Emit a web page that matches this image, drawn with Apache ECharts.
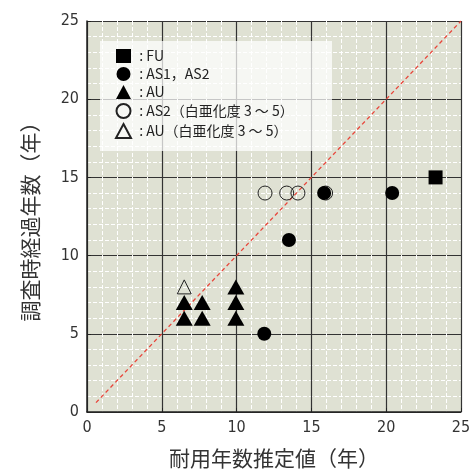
<!DOCTYPE html>
<html>
<head>
<meta charset="utf-8">
<script src="https://cdn.jsdelivr.net/npm/echarts@6/dist/echarts.min.js"></script>
<style>
  html, body { margin: 0; padding: 0; background: #fff; }
  #chart { width: 474px; height: 474px; }
</style>
</head>
<body>
<div id="chart"></div>
<script>
// データ [耐用年数推定値, 調査時経過年数]
const fuData = [[23.3, 15]];
const asData = [[11.85, 5], [13.5, 11], [15.85, 14], [20.4, 14]];
const auData = [[6.5, 6], [6.5, 7], [7.7, 6], [7.7, 7], [9.95, 6], [9.95, 7], [9.95, 8]];
const as2Chalk = [[11.9, 14], [13.35, 14], [14.1, 14], [15.95, 14]];
const auChalk = [[6.5, 8]];
const refLine = [[0.6, 0.6], [25, 25]];
const axisTicks = [0, 5, 10, 15, 20, 25];

const tickFont = '"Liberation Sans Narrow", "DejaVu Sans Condensed", sans-serif';
const jpFont = '"Noto Sans CJK JP", sans-serif';

const chart = echarts.init(document.getElementById('chart'));

function axisCfg(name) {
  return {
    type: 'value',
    min: axisTicks[0],
    max: axisTicks[axisTicks.length - 1],
    interval: 5,
    name: name,
    nameLocation: 'middle',
    nameTextStyle: { fontFamily: jpFont, fontSize: 21, color: '#333' },
    axisLine: { show: true, lineStyle: { color: '#222', width: 1.5 } },
    axisTick: { show: true, length: 4, inside: true, lineStyle: { color: '#222' } },
    axisLabel: { fontFamily: tickFont, fontSize: 16, color: '#333' },
    splitLine: { show: true, lineStyle: { color: '#333', width: 1.2 } },
    minorTick: { show: false, splitNumber: 5 },
    minorSplitLine: { show: true, lineStyle: { color: '#ffffff', type: [4, 2], width: 1 } }
  };
}

const symS = 14;
const hollow = { color: 'rgba(0,0,0,0)', borderColor: '#222', borderWidth: 1, opacity: 1 };

chart.setOption({
  animation: false,
  grid: { left: 87, right: 13, top: 21, bottom: 61, show: true, backgroundColor: '#dfe1d3', borderWidth: 0 },
  xAxis: Object.assign(axisCfg('耐用年数推定値（年）'), { nameGap: 36 }),
  yAxis: Object.assign(axisCfg('調査時経過年数（年）'), { nameGap: 46 }),
  graphic: [{
    type: 'rect',
    left: 100, top: 41,
    shape: { width: 232, height: 110 },
    style: { fill: 'rgba(255,255,255,0.72)' },
    z: 5
  }],
  legend: {
    orient: 'vertical',
    left: 115, top: 49,
    itemWidth: 15, itemHeight: 14,
    itemGap: 4,
    padding: 0,
    z: 6,
    textStyle: { fontFamily: jpFont, fontSize: 14, color: '#222' },
    formatter: n => '\u00a0: ' + n,
    data: [
      { name: 'FU', icon: 'rect' },
      { name: 'AS1，AS2', icon: 'circle' },
      { name: 'AU', icon: 'triangle' },
      { name: 'AS2（白亜化度 3 ～ 5）', icon: 'circle' },
      { name: 'AU（白亜化度 3 ～ 5）', icon: 'triangle' }
    ]
  },
  series: [
    {
      type: 'line', data: refLine, symbol: 'none', silent: true,
      lineStyle: { color: '#e8473c', width: 1.3, type: [4, 3] }, z: 3
    },
    {
      name: 'AS2（白亜化度 3 ～ 5）', type: 'scatter', data: as2Chalk,
      symbol: 'circle', symbolSize: symS, itemStyle: hollow, z: 4
    },
    {
      name: 'AU（白亜化度 3 ～ 5）', type: 'scatter', data: auChalk,
      symbol: 'triangle', symbolSize: [14, 14], itemStyle: hollow, z: 4
    },
    {
      name: 'FU', type: 'scatter', data: fuData, symbol: 'rect', symbolSize: symS,
      itemStyle: { color: '#000', opacity: 1 }, z: 5
    },
    {
      name: 'AS1，AS2', type: 'scatter', data: asData, symbol: 'circle', symbolSize: symS,
      itemStyle: { color: '#000', opacity: 1 }, z: 5
    },
    {
      name: 'AU', type: 'scatter', data: auData, symbol: 'triangle', symbolSize: [17, 15],
      itemStyle: { color: '#000', opacity: 1 }, z: 5
    }
  ]
});
</script>
</body>
</html>
